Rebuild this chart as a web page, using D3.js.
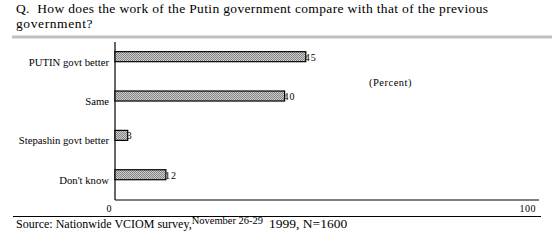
<!DOCTYPE html>
<html>
<head>
<meta charset="utf-8">
<script src="https://cdn.jsdelivr.net/npm/d3@7"></script>
<style>
  body { margin: 0; background: #fff; }
  text { font-family: "Liberation Serif", "Times New Roman", serif; fill: #000; }
</style>
</head>
<body>
<div id="chart"></div>
<script>
// data
var categories = ["PUTIN govt better", "Same", "Stepashin govt better", "Don't know"];
var values = [45, 40, 3, 12];
var tickValues = [0, 100];

var W = 552, H = 240;
var svg = d3.select("#chart").append("svg")
  .attr("width", W)
  .attr("height", H);

// checker fill like the old bitmap bars
var defs = svg.append("defs");
var pat = defs.append("pattern")
  .attr("id", "dots")
  .attr("width", 2).attr("height", 2)
  .attr("patternUnits", "userSpaceOnUse");
pat.append("rect").attr("width", 2).attr("height", 2).attr("fill", "#cccccc");
pat.append("rect").attr("width", 1).attr("height", 1).attr("fill", "#858585");
pat.append("rect").attr("x", 1).attr("y", 1).attr("width", 1).attr("height", 1).attr("fill", "#858585");

// title
svg.append("text")
  .attr("x", 16).attr("y", 13)
  .style("font-size", "13.5px")
  .attr("textLength", 472)
  .attr("lengthAdjust", "spacing")
  .attr("xml:space", "preserve")
  .text("Q.  How does the work of the Putin government compare with that of the previous");
svg.append("text")
  .attr("x", 16).attr("y", 28)
  .style("font-size", "13.5px")
  .attr("letter-spacing", "0.6px")
  .text("government?");

svg.append("rect")
  .attr("x", 12).attr("y", 35.5)
  .attr("width", 540).attr("height", 3)
  .attr("fill", "#c0c0c0");

var x = d3.scaleLinear().domain([0, 100]).range([115, 539]);
var y = d3.scaleBand().domain(categories).range([37, 194.4]);
var barH = 10;

// axes frame
svg.append("line")
  .attr("x1", x(0)).attr("x2", x(0))
  .attr("y1", 42).attr("y2", 200)
  .attr("stroke", "#000").attr("stroke-width", 1.2);
svg.append("line")
  .attr("x1", x(0)).attr("x2", x(100))
  .attr("y1", 200).attr("y2", 200)
  .attr("stroke", "#000").attr("stroke-width", 1.2);

// tick labels
svg.selectAll(".tick-label")
  .data(tickValues)
  .enter().append("text")
  .attr("class", "tick-label")
  .attr("x", function (d) { return x(d) - 3; })
  .attr("y", 212)
  .attr("text-anchor", "end")
  .style("font-size", "10px")
  .attr("letter-spacing", "0.5px")
  .text(function (d) { return d; });

// category labels
svg.selectAll(".cat")
  .data(categories)
  .enter().append("text")
  .attr("class", "cat")
  .attr("x", 109)
  .attr("y", function (d) { return y(d) + y.bandwidth() / 2 + 9; })
  .attr("text-anchor", "end")
  .style("font-size", "10.7px")
  .text(function (d) { return d; });

// bars
svg.selectAll(".bar")
  .data(values)
  .enter().append("rect")
  .attr("class", "bar")
  .attr("x", x(0))
  .attr("y", function (d, i) { return y(categories[i]) + y.bandwidth() / 2 - barH / 2; })
  .attr("width", function (d) { return x(d) - x(0); })
  .attr("height", barH)
  .attr("fill", "url(#dots)")
  .attr("stroke", "#000")
  .attr("stroke-width", 1.2);

// value labels
svg.selectAll(".val")
  .data(values)
  .enter().append("text")
  .attr("class", "val")
  .attr("x", function (d) { return x(d) - 1; })
  .attr("y", function (d, i) { return y(categories[i]) + y.bandwidth() / 2 + 4; })
  .style("font-size", "10px")
  .attr("letter-spacing", "1px")
  .text(function (d) { return d; });

svg.append("text")
  .attr("x", 369).attr("y", 86)
  .style("font-size", "10.5px")
  .attr("letter-spacing", "0.5px")
  .text("(Percent)");

// bottom rule and source
svg.append("line")
  .attr("x1", 13).attr("x2", 541)
  .attr("y1", 216.5).attr("y2", 216.5)
  .attr("stroke", "#000").attr("stroke-width", 1.2);

var src = svg.append("text")
  .attr("x", 16).attr("y", 228)
  .style("font-size", "12px");
src.append("tspan").text("Source: Nationwide VCIOM survey,");
src.append("tspan").attr("dy", -4).style("font-size", "10.5px").text("November 26-29");
src.append("tspan").attr("dy", 4).attr("dx", 6).style("font-size", "13.5px").text("1999, N=1600");
</script>
</body>
</html>
